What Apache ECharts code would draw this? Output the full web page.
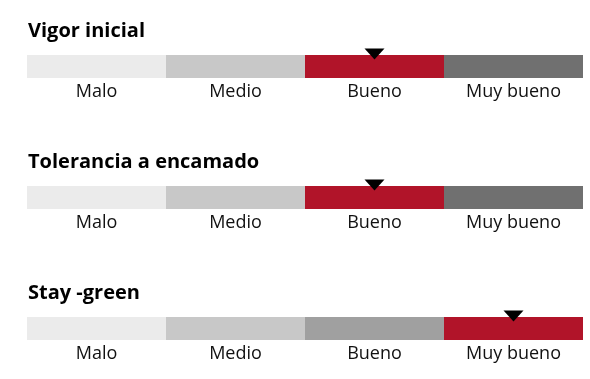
<!DOCTYPE html>
<html>
<head>
<meta charset="utf-8">
<script src="https://cdn.jsdelivr.net/npm/echarts@6/dist/echarts.min.js"></script>
<style>
html,body{margin:0;padding:0;background:#fff;}
#chart{width:590px;height:379px;}
</style>
</head>
<body>
<div id="chart"></div>
<script>
// Data
const categories = ['Malo', 'Medio', 'Bueno', 'Muy bueno'];
const traits = ['Vigor inicial', 'Tolerancia a encamado', 'Stay -green'];
const ratings = ['Bueno', 'Bueno', 'Muy bueno'];
const segmentValues = [1, 1, 1, 1];

// Styles
const baseColors = ['#ebebeb', '#c8c8c8', '#a0a0a0', '#707070'];
const selectedColor = '#b11429';
const FONT = 'Open Sans';
const rowTops = [55, 186, 317];
const barHeight = 23;

const titles = [], grids = [], xAxes = [], yAxes = [], series = [];
traits.forEach((t, i) => {
  titles.push({
    text: t, left: 28, top: rowTops[i] - 34, padding: 0,
    textStyle: { fontFamily: FONT, fontWeight: 'bold', fontSize: 20, color: '#000' }
  });
  grids.push({ left: 27, right: 7, top: rowTops[i], height: barHeight });
  xAxes.push({
    type: 'category', gridIndex: i, data: categories, boundaryGap: true,
    axisLine: { show: false }, axisTick: { show: false }, splitLine: { show: false },
    axisLabel: { fontFamily: FONT, fontSize: 18, color: '#111', margin: 5, interval: 0 }
  });
  yAxes.push({ type: 'value', gridIndex: i, min: 0, max: 1, show: false });
  series.push({
    type: 'bar', xAxisIndex: i, yAxisIndex: i, barWidth: '100%', barCategoryGap: 0,
    silent: true,
    data: segmentValues.map((v, k) => ({
      value: v,
      itemStyle: { color: categories[k] === ratings[i] ? selectedColor : baseColors[k] }
    }))
  });
  series.push({
    type: 'scatter', xAxisIndex: i, yAxisIndex: i, clip: false, silent: true, z: 10,
    symbol: 'triangle', symbolRotate: 180, symbolSize: [20, 11], symbolOffset: [0, -1],
    itemStyle: { color: '#000', opacity: 1 },
    data: [[ratings[i], 1]]
  });
});

const chart = echarts.init(document.getElementById('chart'), null, { renderer: 'canvas' });
chart.setOption({
  animation: false,
  title: titles, grid: grids, xAxis: xAxes, yAxis: yAxes, series: series
});
</script>
</body>
</html>
